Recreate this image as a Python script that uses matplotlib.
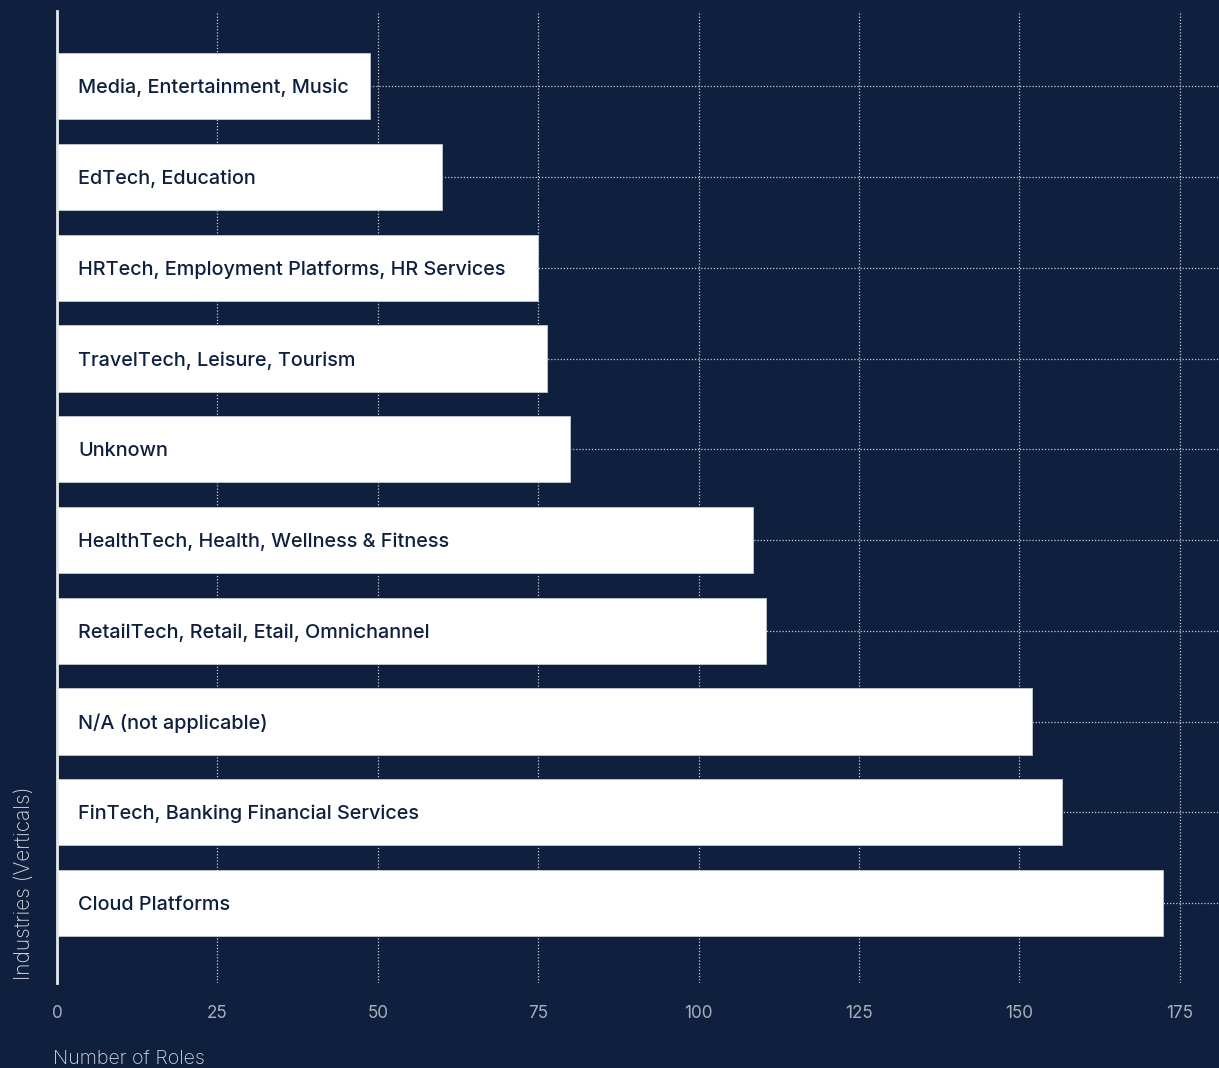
import matplotlib.pyplot as plt

industries = [
    "Cloud Platforms",
    "FinTech, Banking Financial Services",
    "N/A (not applicable)",
    "RetailTech, Retail, Etail, Omnichannel",
    "HealthTech, Health, Wellness & Fitness",
    "Unknown",
    "TravelTech, Leisure, Tourism",
    "HRTech, Employment Platforms, HR Services",
    "EdTech, Education",
    "Media, Entertainment, Music",
]
roles = [172.4, 156.7, 152.0, 110.5, 108.5, 79.9, 76.3, 74.9, 60.0, 48.8]
xticks = [0, 25, 50, 75, 100, 125, 150, 175]

bg = '#0e203e'
plt.rcParams['font.family'] = ['Inter', 'DejaVu Sans']

fig = plt.figure(figsize=(12.19, 10.68), dpi=100, facecolor=bg)
ax = fig.add_axes([0.0468, 0.0796, 0.9532, 0.9101], facecolor=bg)

ypos = list(range(len(industries)))
ax.barh(ypos, roles, height=0.73, color='white', edgecolor='#c4c9d1',
        linewidth=0.6, zorder=3)

for y, name in zip(ypos, industries):
    ax.text(3.3, y - 0.02, name, va='center', ha='left', fontsize=14.3,
            fontweight='medium', color='#0e203e', zorder=4)

ax.set_xlim(0, 181.1)
ax.set_ylim(-0.88, 9.83)
ax.set_xticks(xticks)
ax.set_yticks(ypos)
ax.set_yticklabels([])
ax.tick_params(axis='both', length=0)
ax.tick_params(axis='x', pad=16, labelsize=12.3, labelcolor='#a9afba')

ax.grid(True, color='#c8ccd4', linestyle=(0, (1, 1.5)), linewidth=0.9, zorder=0)
ax.set_axisbelow(True)

for side in ['top', 'right', 'bottom']:
    ax.spines[side].set_visible(False)
ax.spines['left'].set_color('#e6e8ec')
ax.spines['left'].set_linewidth(2)
ax.spines['left'].set_zorder(5)

ax.set_xlabel("Number of Roles", loc='left', fontsize=14.2, color='#d6d9df',
              fontweight='light')
ax.xaxis.set_label_coords(-0.0035, -0.069)
ax.set_ylabel("Industries (Verticals)", loc='bottom', fontsize=15, color='#d6d9df',
              fontweight='light')
ax.yaxis.set_label_coords(-0.02, 0.003)

fig.savefig('out.png', dpi=100, facecolor=bg)
